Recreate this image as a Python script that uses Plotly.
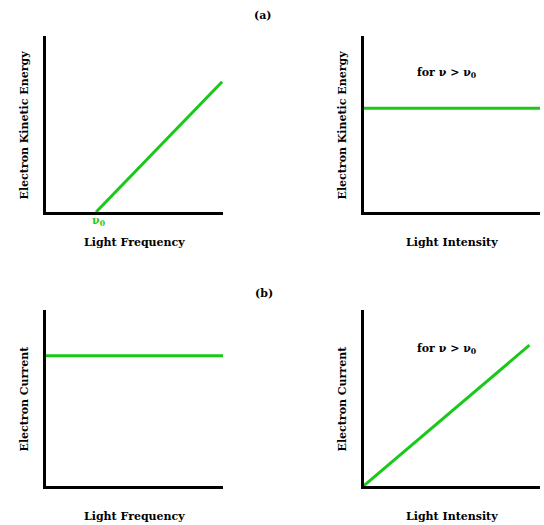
import plotly.graph_objects as go

# --- data (axes run 0..10 in arbitrary units) ---
freq_a = [2.85, 9.95]          # light frequency, starts at threshold nu0
energy_a = [0.0, 7.4]          # electron kinetic energy
intensity_a = [0.0, 10.0]
energy_flat = [5.9, 5.9]       # kinetic energy independent of intensity

freq_b = [0.0, 10.0]
current_flat = [7.4, 7.4]      # current independent of frequency
intensity_b = [0.0, 9.4]
current_b = [0.0, 8.0]         # current proportional to intensity

panel_titles = ["(a)", "(b)"]
x_labels = ["Light Frequency", "Light Intensity", "Light Frequency", "Light Intensity"]
y_labels = ["Electron Kinetic Energy", "Electron Kinetic Energy", "Electron Current", "Electron Current"]
cond_text = "for ν > ν<sub>0</sub>"

W, H = 544, 525
GREEN = "#19c819"
FONT = "DejaVu Serif"

# panel boxes in pixels: (left, right, top, bottom)
boxes = [(45.5, 223, 36, 212), (363.5, 540, 36, 212),
         (45.5, 223, 310, 486), (363.5, 540, 310, 486)]
ylab_centre = [125, 125, 399, 399]

fig = go.Figure()
series = [(freq_a, energy_a), (intensity_a, energy_flat),
          (freq_b, current_flat), (intensity_b, current_b)]

for n, (xs, ys) in enumerate(series):
    ax = "" if n == 0 else str(n + 1)
    fig.add_trace(go.Scatter(x=xs, y=ys, mode="lines",
                             line=dict(color=GREEN, width=3),
                             xaxis="x" + ax, yaxis="y" + ax,
                             showlegend=False, hoverinfo="skip"))

layout = {}
for n, (l, r, t, b) in enumerate(boxes):
    ax = "" if n == 0 else str(n + 1)
    common = dict(showline=True, linecolor="black", linewidth=3,
                  showgrid=False, zeroline=False, showticklabels=False,
                  ticks="", range=[0, 10], fixedrange=True)
    layout["xaxis" + ax] = dict(domain=[l / W, r / W], anchor="y" + ax, **common)
    layout["yaxis" + ax] = dict(domain=[1 - b / H, 1 - t / H], anchor="x" + ax, **common)


def note(text, px, py, **kw):
    # place text centred on a pixel position of the page
    d = dict(text=text, xref="paper", yref="paper", x=px / W, y=1 - py / H,
             showarrow=False, xanchor="center", yanchor="middle",
             font=dict(family=FONT, size=11, color="black"))
    d.update(kw)
    return d


annotations = []
for n, (l, r, t, b) in enumerate(boxes):
    annotations.append(note("<b>%s</b>" % x_labels[n], (l + r) / 2, b + 30))
    annotations.append(note("<b>%s</b>" % y_labels[n], l - 22, ylab_centre[n], textangle=-90))

annotations.append(note("<b>%s</b>" % panel_titles[0], 263, 15))
annotations.append(note("<b>%s</b>" % panel_titles[1], 264, 293))
annotations.append(note("<b>%s</b>" % cond_text, 446, 73))
annotations.append(note("<b>%s</b>" % cond_text, 446, 349))
annotations.append(dict(text="<b>ν<sub>0</sub></b>", xref="x", yref="y",
                        x=freq_a[0], y=0, yshift=-9, xshift=2, showarrow=False,
                        xanchor="center", yanchor="middle",
                        font=dict(family=FONT, size=11, color=GREEN)))

fig.update_layout(width=W, height=H, margin=dict(l=0, r=0, t=0, b=0),
                  paper_bgcolor="white", plot_bgcolor="white",
                  annotations=annotations, **layout)

# page body has a default 8px margin; drop it so the figure fills the window
fig.write_html("out.html", config={"displayModeBar": False},
               post_script="document.body.style.margin='0';")
